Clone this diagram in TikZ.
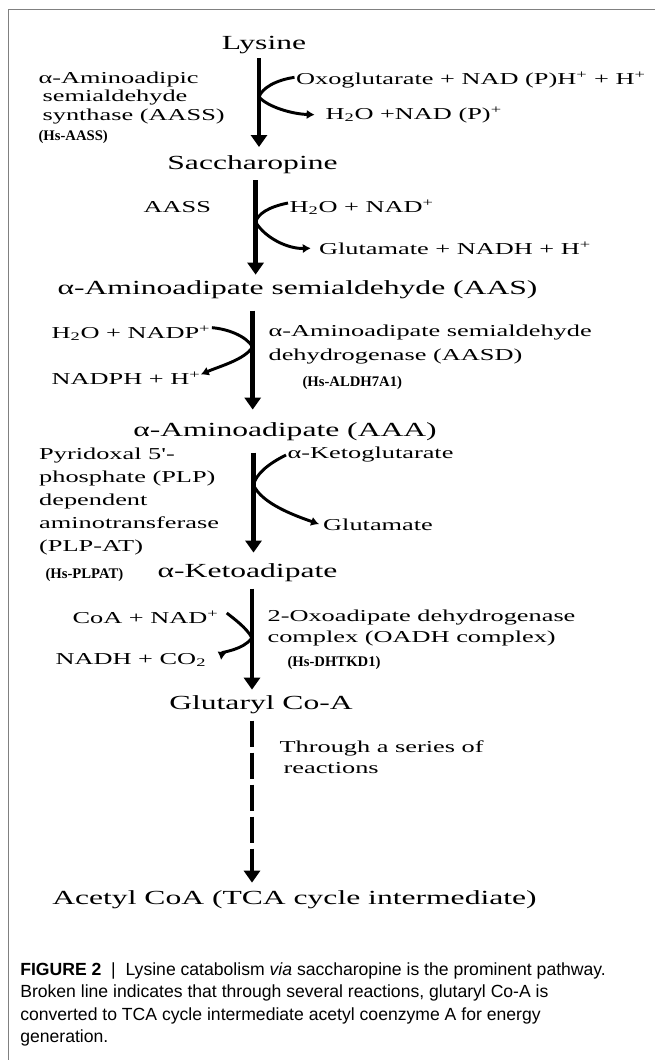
\documentclass[tikz,border=0pt]{standalone}
\usepackage{fontspec}
\setmainfont{Liberation Serif}
\newfontfamily\diagfont[FakeStretch=1.58]{Liberation Serif}
\newfontfamily\capfont{Liberation Sans}
\usetikzlibrary{arrows.meta}
\tikzset{
    metab/.style={font=\diagfont\fontsize{15}{18}\selectfont, inner sep=1pt},
    cofac/.style={font=\diagfont\fontsize{12.5}{15}\selectfont, inner sep=1pt, anchor=west, align=left},
    gene/.style={font=\bfseries\fontsize{11}{13}\selectfont, inner sep=1pt, anchor=west},
    mainArrow/.style={line width=3.7pt, -{Triangle[length=9pt,width=12pt]}},
    sideArrow/.style={line width=2.2pt, -{Latex[length=6pt,width=7pt]}}
}

\begin{document}
\begin{tikzpicture}[x=0.75pt,y=-0.75pt]
	\useasboundingbox (0,0) rectangle (655,1060);
	\draw[gray, line width=1.1pt] (8.5,1060) -- (8.5,9.5) -- (655,9.5);
	% metabolites
	\node[metab] (lys) at (264,45) {Lysine};
	\node[metab] (sac) at (252.5,165) {Saccharopine};
	\node[metab] (aas) at (297.5,290) {α-Aminoadipate semialdehyde (AAS)};
	\node[metab] (aaa) at (285,432) {α-Aminoadipate (AAA)};
	\node[metab] (kad) at (247.5,573) {α-Ketoadipate};
	\node[metab] (glu) at (261,705) {Glutaryl Co-A};
	\node[metab] (acc) at (294.5,900) {Acetyl CoA (TCA cycle intermediate)};
	% enzymes and cofactors
	\node[cofac, font=\diagfont\fontsize{12.5}{13.6}\selectfont] (aass) at (37,98) {α-Aminoadipic\\\hspace{3pt}semialdehyde\\\hspace{3pt}synthase (AASS)};
	\node[gene] (hsaass) at (37,137) {(Hs-AASS)};
	\node[cofac] (oxo) at (294.5,80) {Oxoglutarate + NAD (P)H\textsuperscript{+} + H\textsuperscript{+}};
	\node[cofac] (hwa) at (324,115) {H\textsubscript{2}O +NAD (P)\textsuperscript{+}};
	\node[cofac] (aassb) at (142,207) {AASS};
	\node[cofac] (hwb) at (288,207) {H\textsubscript{2}O + NAD\textsuperscript{+}};
	\node[cofac] (gluta) at (317.5,248) {Glutamate + NADH + H\textsuperscript{+}};
	\node[cofac] (hwc) at (50,333) {H\textsubscript{2}O + NADP\textsuperscript{+}};
	\node[cofac] (nadph) at (50,378) {NADPH + H\textsuperscript{+}};
	\node[cofac, font=\diagfont\fontsize{12.5}{18}\selectfont] (aasd) at (267,345) {α-Aminoadipate semialdehyde\\dehydrogenase (AASD)};
	\node[gene] (hsaldh) at (301,383) {(Hs-ALDH7A1)};
	\node[cofac, font=\diagfont\fontsize{12.5}{17.25}\selectfont] (plpat) at (37.6,501) {Pyridoxal 5'-\\phosphate (PLP)\\dependent\\aminotransferase\\(PLP-AT)};
	\node[gene] (hsplpat) at (44,575) {(Hs-PLPAT)};
	\node[cofac] (akg) at (286,455) {α-Ketoglutarate};
	\node[cofac] (glutb) at (321.6,525) {Glutamate};
	\node[cofac] (coa) at (71,617) {CoA + NAD\textsuperscript{+}};
	\node[cofac] (nadh) at (54,660) {NADH + CO\textsubscript{2}};
	\node[cofac, font=\diagfont\fontsize{12.5}{15.75}\selectfont] (oadh) at (266,627.5) {2-Oxoadipate dehydrogenase\\complex (OADH complex)};
	\node[gene] (hsdhtkd) at (286,663) {(Hs-DHTKD1)};
	\node[cofac, font=\diagfont\fontsize{12.5}{15.75}\selectfont] (series) at (278,757.5) {Through a series of\\\hspace{3pt}reactions};
	% junctions
	\coordinate (j1) at (259,97);
	\coordinate (j2) at (255.6,222);
	\coordinate (j3) at (252.7,347);
	\coordinate (j4) at (253.5,485);
	\coordinate (j5) at (252,638);
	% main pathway
	\draw[mainArrow, shorten <=2pt, shorten >=5.5pt] (lys.south -| j1) -- (sac.north -| j1);
	\draw[mainArrow, shorten <=3.5pt, shorten >=3.5pt] (sac.south -| j2) -- (aas.north -| j2);
	\draw[mainArrow, shorten <=7.5pt, shorten >=8.8pt] (aas.south -| j3) -- (aaa.north -| j3);
	\draw[mainArrow, shorten <=7.5pt, shorten >=7.3pt] (aaa.south -| j4) -- (kad.north -| j4);
	\draw[mainArrow, shorten <=3.7pt, shorten >=3.5pt] (kad.south -| j5) -- (glu.north -| j5);
	\draw[mainArrow, dash pattern=on 19.5pt off 4.5pt, shorten <=3.7pt, shorten >=5pt] (glu.south -| j5) -- (acc.north -| j5);
	% side reactions
	\draw[sideArrow, shorten >=7pt] ([yshift=2pt]oxo.west) .. controls (276,80) and (262,88) .. (j1) .. controls (268,107) and (292,114) .. (hwa.west);
	\draw[sideArrow, shorten >=5pt] ([yshift=3pt]hwb.west) .. controls (268,207) and (258,214) .. (j2) .. controls (265,238) and (288,249) .. (gluta.west);
	\draw[sideArrow, shorten >=-1pt] ([yshift=4pt]hwc.east) .. controls (228,329) and (246,336) .. (j3) .. controls (244,360) and (220,366) .. ([yshift=3pt]nadph.east);
	\draw[sideArrow, shorten >=2pt] (akg.west) .. controls (268,464) and (256,474) .. (j4) .. controls (262,504) and (296,516) .. (glutb.west);
	\draw[sideArrow] ([xshift=5pt,yshift=3pt]coa.east) .. controls (233,618) and (247,628) .. (j5) .. controls (243,650) and (222,652) .. ([xshift=10pt]nadh.east);
	% caption
	\node[anchor=north west, inner sep=0pt, align=left, font=\capfont\fontsize{13.2}{16.9}\selectfont] (cap) at (20,962) {\textbf{FIGURE 2}\ \ |\ \ Lysine catabolism \textit{via} saccharopine is the prominent pathway.\\Broken line indicates that through several reactions, glutaryl Co-A is\\converted to TCA cycle intermediate acetyl coenzyme A for energy\\generation.};
\end{tikzpicture}
\end{document}
